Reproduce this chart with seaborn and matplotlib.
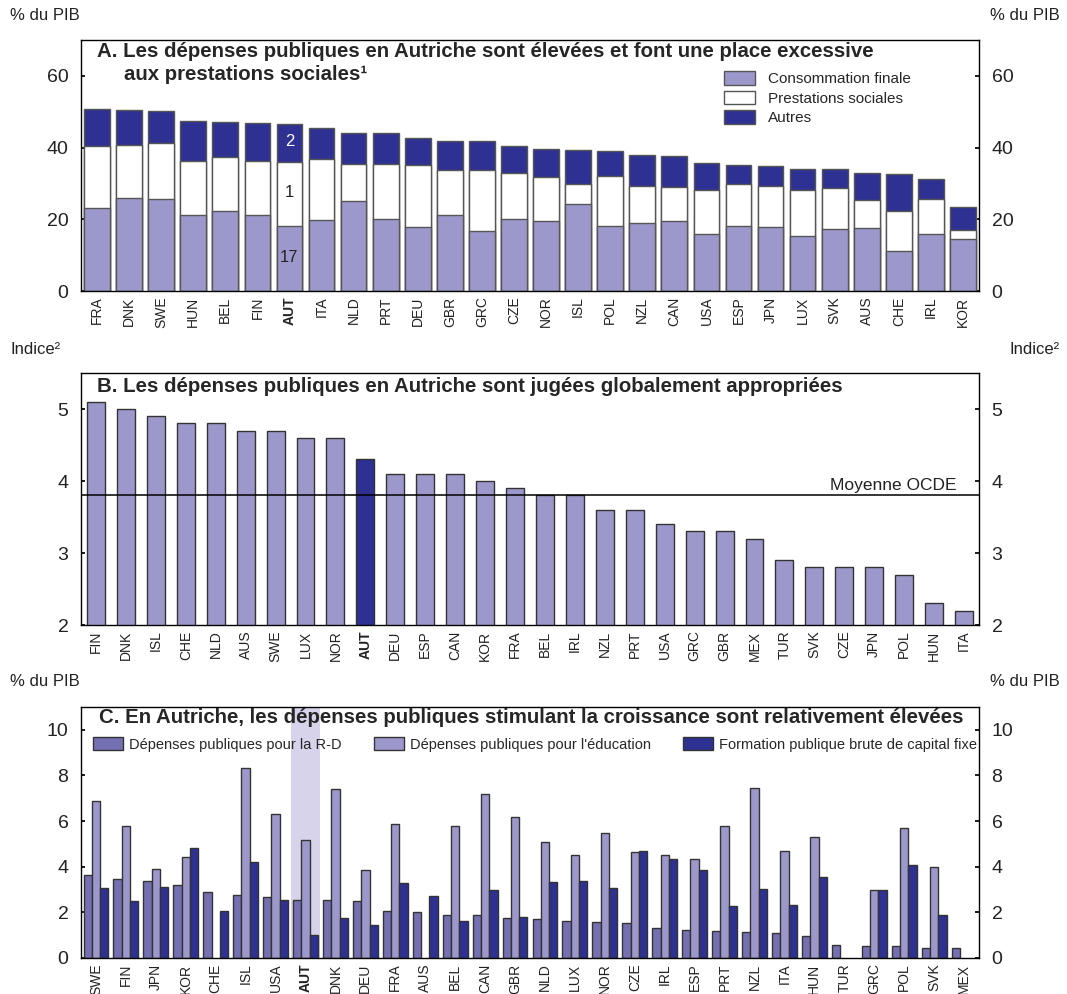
import numpy as np
import pandas as pd
import matplotlib
matplotlib.use("Agg")
import matplotlib.pyplot as plt
import seaborn as sns
from matplotlib.patches import Patch

nan = np.nan

# ---------------- Panel A data ----------------
countries_a = ["FRA", "DNK", "SWE", "HUN", "BEL", "FIN", "AUT", "ITA", "NLD", "PRT",
               "DEU", "GBR", "GRC", "CZE", "NOR", "ISL", "POL", "NZL", "CAN", "USA",
               "ESP", "JPN", "LUX", "SVK", "AUS", "CHE", "IRL", "KOR"]
conso = [23.1, 25.9, 25.6, 21.1, 22.2, 21.3, 18.2, 19.7, 25.0, 20.2,
         17.9, 21.1, 16.8, 20.2, 19.6, 24.4, 18.0, 19.0, 19.4, 16.0,
         18.2, 17.9, 15.2, 17.3, 17.7, 11.1, 15.9, 14.5]
prestations = [17.3, 14.8, 15.6, 15.1, 15.2, 15.0, 17.9, 17.0, 10.3, 15.1,
               17.3, 12.6, 17.0, 12.7, 12.1, 5.4, 14.0, 10.3, 9.6, 12.1,
               11.6, 11.5, 12.9, 11.5, 7.8, 11.3, 9.7, 2.5]
autres = [10.3, 9.7, 9.0, 11.1, 9.7, 10.6, 10.5, 8.8, 8.8, 8.8,
          7.5, 8.2, 8.1, 7.5, 7.9, 9.6, 7.1, 8.7, 8.7, 7.6,
          5.4, 5.6, 6.0, 5.3, 7.4, 10.2, 5.5, 6.5]
series_a = ["Consommation finale", "Prestations sociales", "Autres"]

# ---------------- Panel B data ----------------
countries_b = ["FIN", "DNK", "ISL", "CHE", "NLD", "AUS", "SWE", "LUX", "NOR", "AUT",
               "DEU", "ESP", "CAN", "KOR", "FRA", "BEL", "IRL", "NZL", "PRT", "USA",
               "GRC", "GBR", "MEX", "TUR", "SVK", "CZE", "JPN", "POL", "HUN", "ITA"]
indice_b = [5.1, 5.0, 4.9, 4.8, 4.8, 4.7, 4.7, 4.6, 4.6, 4.3,
            4.1, 4.1, 4.1, 4.0, 3.9, 3.8, 3.8, 3.6, 3.6, 3.4,
            3.3, 3.3, 3.2, 2.9, 2.8, 2.8, 2.8, 2.7, 2.3, 2.2]
moyenne_ocde = 3.8

# ---------------- Panel C data ----------------
countries_c = ["SWE", "FIN", "JPN", "KOR", "CHE", "ISL", "USA", "AUT", "DNK", "DEU",
               "FRA", "AUS", "BEL", "CAN", "GBR", "NLD", "LUX", "NOR", "CZE", "IRL",
               "ESP", "PRT", "NZL", "ITA", "HUN", "TUR", "GRC", "POL", "SVK", "MEX"]
rd = [3.64, 3.46, 3.39, 3.21, 2.91, 2.76, 2.67, 2.54, 2.54, 2.51,
      2.06, 2.01, 1.87, 1.87, 1.75, 1.72, 1.62, 1.56, 1.53, 1.33,
      1.21, 1.17, 1.14, 1.11, 0.95, 0.57, 0.54, 0.54, 0.44, 0.44]
educ = [6.89, 5.77, 3.91, 4.42, nan, 8.32, 6.31, 5.17, 7.40, 3.85,
        5.87, nan, 5.80, 7.17, 6.16, 5.07, 4.53, 5.46, 4.64, 4.53,
        4.36, 5.77, 7.47, 4.70, 5.30, nan, 2.96, 5.68, 3.97, nan]
fbcf = [3.07, 2.51, 3.11, 4.82, 2.06, 4.20, 2.54, 1.01, 1.74, 1.45,
        3.28, 2.72, 1.64, 2.96, 1.81, 3.33, 3.36, 3.07, 4.70, 4.36,
        3.84, 2.28, 3.02, 2.32, 3.55, nan, 2.96, 4.09, 1.87, nan]
series_c = ["Dépenses publiques pour la R-D",
            "Dépenses publiques pour l'éducation",
            "Formation publique brute de capital fixe"]

# ---------------- Style ----------------
C_LIGHT = "#9d98cb"
C_DARK = "#2e3191"
C_RD = "#7570b1"
C_BAND = "#d6d3ea"

sns.set_theme(style="ticks")
plt.rcParams["font.family"] = ["Liberation Sans", "DejaVu Sans"]
plt.rcParams["axes.edgecolor"] = "black"
plt.rcParams["axes.linewidth"] = 1.0

W, H = 1067, 994
fig = plt.figure(figsize=(W / 100, H / 100), dpi=100)

def px_axes(left, top, right, bottom):
    return fig.add_axes([left / W, 1 - bottom / H, (right - left) / W, (bottom - top) / H])

ax_a = px_axes(81, 40, 979, 291)
ax_b = px_axes(81, 373, 979, 625)
ax_c = px_axes(81, 707, 979, 958)

TICK_FS = 14
XL_FS = 10
TITLE_FS = 14.7

def style_axes(ax, yticks, ylim, n):
    ax.set_ylim(*ylim)
    ax.set_xlim(-0.5, n - 0.5)
    ax.set_yticks(yticks)
    ax.set_yticklabels([str(t) for t in yticks])
    ax.tick_params(axis="y", which="both", left=True, right=True, labelleft=True,
                   labelright=True, direction="in", length=3, pad=9,
                   labelsize=TICK_FS, colors="black")
    ax.tick_params(axis="y", labelcolor="#222222")
    ax.tick_params(axis="x", bottom=False, length=0, pad=4, labelsize=XL_FS,
                   labelrotation=90)
    for s in ax.spines.values():
        s.set_visible(True)
        s.set_color("black")
        s.set_linewidth(1.0)
    ax.set_xlabel("")
    ax.set_ylabel("")
    for lbl in ax.get_xticklabels():
        lbl.set_color("#222222")
        if lbl.get_text() == "AUT":
            lbl.set_fontweight("bold")

# ---------------- Panel A ----------------
df_a = pd.DataFrame({"pays": countries_a, "conso": conso,
                     "prest": prestations, "autres": autres})
df_a["total"] = df_a["conso"] + df_a["prest"] + df_a["autres"]
df_a["cp"] = df_a["conso"] + df_a["prest"]
for col, colr in [("total", C_DARK), ("cp", "white"), ("conso", C_LIGHT)]:
    sns.barplot(data=df_a, x="pays", y=col, order=countries_a, color=colr,
                saturation=1, width=0.8, edgecolor="#555555", linewidth=1.0,
                errorbar=None, ax=ax_a)
style_axes(ax_a, [0, 20, 40, 60], (0, 70), len(countries_a))

ax_a.text(0.018, 0.955, "A. Les dépenses publiques en Autriche sont élevées et font une place excessive",
          transform=ax_a.transAxes, fontsize=TITLE_FS, fontweight="bold", va="center", ha="left")
ax_a.text(0.048, 0.862, "aux prestations sociales¹",
          transform=ax_a.transAxes, fontsize=TITLE_FS, fontweight="bold", va="center", ha="left")

i_aut = countries_a.index("AUT")
ax_a.text(i_aut, conso[i_aut] + prestations[i_aut] + autres[i_aut] * 0.52, "2",
          color="white", ha="center", va="center", fontsize=12)
ax_a.text(i_aut, conso[i_aut] + prestations[i_aut] * 0.52, "1",
          color="#222222", ha="center", va="center", fontsize=12)
ax_a.text(i_aut, conso[i_aut] * 0.52, "17",
          color="#222222", ha="center", va="center", fontsize=12)

handles_a = [Patch(facecolor=c, edgecolor="#555555", linewidth=1.0)
             for c in [C_LIGHT, "white", C_DARK]]
ax_a.legend(handles_a, series_a, loc="upper left", bbox_to_anchor=(0.716, 0.877),
            frameon=False, fontsize=11, handlelength=2.0, handleheight=1.0,
            labelspacing=0.3, handletextpad=0.9, borderaxespad=0, borderpad=0)

# ---------------- Panel B ----------------
df_b = pd.DataFrame({"pays": countries_b, "indice": indice_b})
pal_b = {c: (C_DARK if c == "AUT" else C_LIGHT) for c in countries_b}
sns.barplot(data=df_b, x="pays", y="indice", order=countries_b, hue="pays",
            palette=pal_b, saturation=1, width=0.6, edgecolor="#333333",
            linewidth=1.0, errorbar=None, legend=False, ax=ax_b)
ax_b.axhline(moyenne_ocde, color="black", lw=1.1, zorder=5)
style_axes(ax_b, [2, 3, 4, 5], (2, 5.5), len(countries_b))
ax_b.text(0.975, moyenne_ocde + 0.03, "Moyenne OCDE", transform=ax_b.get_yaxis_transform(),
          ha="right", va="bottom", fontsize=12.5, color="#222222")
ax_b.text(0.018, 0.947, "B. Les dépenses publiques en Autriche sont jugées globalement appropriées",
          transform=ax_b.transAxes, fontsize=TITLE_FS, fontweight="bold", va="center", ha="left")

# ---------------- Panel C ----------------
df_c = pd.DataFrame({"pays": countries_c * 3,
                     "serie": [series_c[0]] * 30 + [series_c[1]] * 30 + [series_c[2]] * 30,
                     "valeur": rd + educ + fbcf}).dropna()
i_aut_c = countries_c.index("AUT")
ax_c.axvspan(i_aut_c - 0.5, i_aut_c + 0.5, color=C_BAND, zorder=0, lw=0)
sns.barplot(data=df_c, x="pays", y="valeur", hue="serie", order=countries_c,
            hue_order=series_c, palette=[C_RD, C_LIGHT, C_DARK], saturation=1,
            width=0.83, edgecolor="#333333", linewidth=1.0, errorbar=None, ax=ax_c,
            zorder=2)
style_axes(ax_c, [0, 2, 4, 6, 8, 10], (0, 11), len(countries_c))
ax_c.text(0.02, 0.957,
          "C. En Autriche, les dépenses publiques stimulant la croissance sont relativement élevées",
          transform=ax_c.transAxes, fontsize=TITLE_FS, fontweight="bold", va="center", ha="left",
          zorder=6)
handles_c = [Patch(facecolor=c, edgecolor="#333333", linewidth=1.0)
             for c in [C_RD, C_LIGHT, C_DARK]]
ax_c.legend(handles_c, series_c, loc="center left", ncol=3, mode="expand",
            bbox_to_anchor=(0.013, 0.85, 0.985, 0.0), frameon=False, fontsize=10.5,
            handlelength=2.1, handleheight=1.0, handletextpad=0.4,
            borderaxespad=0, borderpad=0, columnspacing=1.0)

# ---------------- Unit labels ----------------
for ytop, txt in [(15, "% du PIB"), (350, "Indice²"), (682, "% du PIB")]:
    fig.text(10 / W, 1 - ytop / H, txt, ha="left", va="center", fontsize=12, color="#222222")
    fig.text(1060 / W, 1 - ytop / H, txt, ha="right", va="center", fontsize=12, color="#222222")

fig.savefig("out.png", dpi=100)
